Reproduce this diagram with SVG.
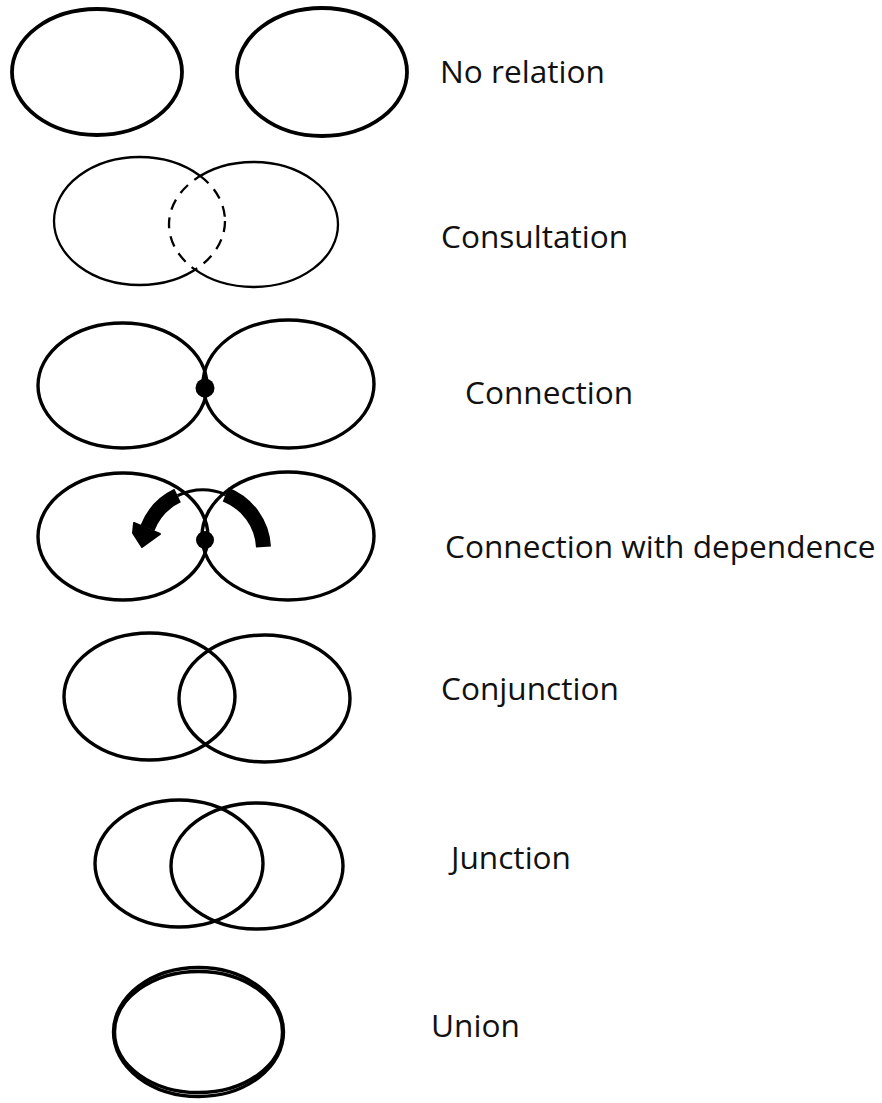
<svg xmlns="http://www.w3.org/2000/svg" width="882" height="1103" viewBox="0 0 882 1103">
<style>
.o{fill:none;stroke:#000;stroke-width:3.4}
.o1{fill:none;stroke:#000;stroke-width:3.8}
.t2{fill:none;stroke:#000;stroke-width:2.3}
.d2{fill:none;stroke:#000;stroke-width:2.3;stroke-dasharray:11 8}
.lbl{font-family:"Open Sans","Liberation Sans",sans-serif;font-size:31.6px;fill:#111}
</style>
<defs>
<mask id="outR2" maskUnits="userSpaceOnUse" x="0" y="0" width="882" height="1103">
<rect x="0" y="0" width="882" height="1103" fill="#fff"/>
<ellipse cx="253.5" cy="224.5" rx="84.5" ry="62.5" fill="#000"/>
</mask>
<mask id="outL2" maskUnits="userSpaceOnUse" x="0" y="0" width="882" height="1103">
<rect x="0" y="0" width="882" height="1103" fill="#fff"/>
<ellipse cx="139.5" cy="221" rx="85.5" ry="64" fill="#000"/>
</mask>
<clipPath id="inR2"><ellipse cx="253.5" cy="224.5" rx="84.5" ry="62.5"/></clipPath>
<clipPath id="inL2"><ellipse cx="139.5" cy="221" rx="85.5" ry="64"/></clipPath>
</defs>
<rect width="882" height="1103" fill="#fff"/>

<g id="no-relation">
<ellipse class="o1" cx="97" cy="72" rx="85" ry="63"/>
<ellipse class="o1" cx="322" cy="72" rx="85" ry="64"/>
<text class="lbl" x="440" y="83">No relation</text>
</g>

<g id="consultation">
<ellipse class="t2" cx="139.5" cy="221" rx="85.5" ry="64" mask="url(#outR2)"/>
<ellipse class="t2" cx="253.5" cy="224.5" rx="84.5" ry="62.5" mask="url(#outL2)"/>
<ellipse class="d2" cx="139.5" cy="221" rx="85.5" ry="64" clip-path="url(#inR2)"/>
<ellipse class="d2" cx="253.5" cy="224.5" rx="84.5" ry="62.5" clip-path="url(#inL2)"/>
<text class="lbl" x="441" y="248">Consultation</text>
</g>

<g id="connection">
<ellipse class="o" cx="122.5" cy="385.5" rx="84.5" ry="62.5"/>
<ellipse class="o" cx="288.5" cy="384" rx="85.5" ry="64"/>
<circle cx="205" cy="388" r="9.5" fill="#000"/>
<text class="lbl" x="465" y="404">Connection</text>
</g>

<g id="connection-with-dependence">
<ellipse class="o" cx="123" cy="536.5" rx="85" ry="63.5"/>
<ellipse class="o" cx="288" cy="536" rx="86" ry="64"/>
<circle cx="205" cy="540" r="9" fill="#000"/>
<text class="lbl" x="445" y="558">Connection with dependence</text>
</g>

<g id="connectors">
<path d="M263.5 547 A60 60 0 0 0 225.5 494.4" fill="none" stroke="#000" stroke-width="15"/>
<path d="M225.5 494.4 A60 60 0 0 0 177.6 495.6" fill="none" stroke="#000" stroke-width="3.2"/>
<path d="M177.6 495.6 A60 60 0 0 0 147.5 528" fill="none" stroke="#000" stroke-width="15"/>
<polygon points="160,534 134,523 133,533 142,547" fill="#000" stroke="#000" stroke-width="2" stroke-linejoin="round"/>
</g>

<g id="conjunction">
<ellipse class="o" cx="149.5" cy="696.5" rx="85.5" ry="63.5"/>
<ellipse class="o" cx="264.5" cy="698.5" rx="85.5" ry="63.5"/>
<text class="lbl" x="441" y="700">Conjunction</text>
</g>

<g id="junction">
<ellipse class="o" cx="179" cy="863.5" rx="84" ry="63.5"/>
<ellipse class="o" cx="257" cy="866" rx="86" ry="63"/>
<text class="lbl" x="451" y="869">Junction</text>
</g>

<g id="union">
<ellipse class="o" cx="198.5" cy="1032" rx="85" ry="64.5"/>
<ellipse class="o" cx="198.5" cy="1032" rx="84" ry="60.5"/>
<text class="lbl" x="431" y="1037">Union</text>
</g>
</svg>
